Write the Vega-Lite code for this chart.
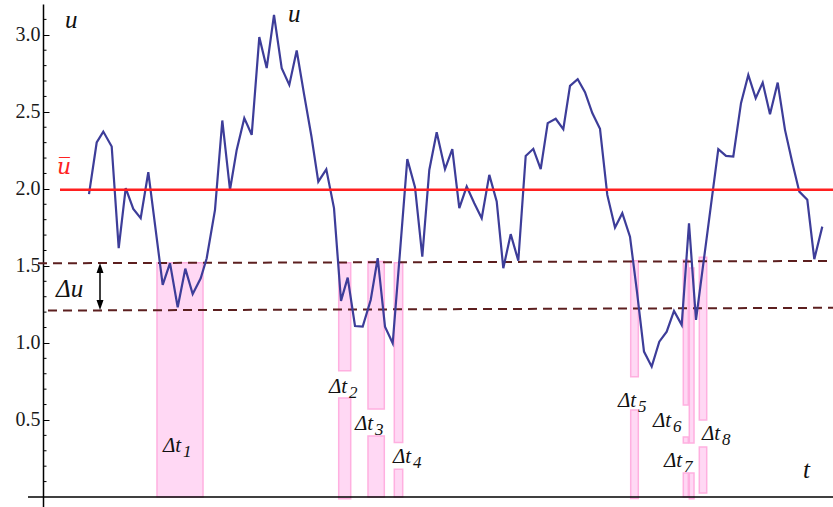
{
  "$schema": "https://vega.github.io/schema/vega-lite/v6.json",
  "width": 790,
  "height": 503,
  "autosize": {"type": "none"},
  "padding": {"left": 43, "top": 4, "right": 0, "bottom": 0},
  "background": "white",
  "config": {"view": {"stroke": null}, "axis": {"labelFont": "Liberation Serif", "labelFontSize": 20}},
  "layer": [
    {
      "data": {"values": [
        {"id": 1, "t0": 11.4, "t1": 16.0, "u0": 0, "u1": 1.52},
        {"id": 2, "t0": 29.57, "t1": 30.77, "u0": -0.012, "u1": 0.643},
        {"id": 2, "t0": 29.57, "t1": 30.77, "u0": 0.82, "u1": 1.52},
        {"id": 3, "t0": 32.5, "t1": 34.13, "u0": 0, "u1": 0.396},
        {"id": 3, "t0": 32.5, "t1": 34.13, "u0": 0.571, "u1": 1.528},
        {"id": 4, "t0": 35.13, "t1": 35.97, "u0": 0, "u1": 0.18},
        {"id": 4, "t0": 35.13, "t1": 35.97, "u0": 0.353, "u1": 1.52},
        {"id": 5, "t0": 58.77, "t1": 59.53, "u0": -0.01, "u1": 0.565},
        {"id": 5, "t0": 58.77, "t1": 59.53, "u0": 0.781, "u1": 1.534},
        {"id": 6, "t0": 64.03, "t1": 64.53, "u0": 0, "u1": 0.156},
        {"id": 6, "t0": 64.03, "t1": 64.53, "u0": 0.351, "u1": 0.39},
        {"id": 6, "t0": 64.03, "t1": 64.53, "u0": 0.597, "u1": 1.539},
        {"id": 7, "t0": 64.63, "t1": 65.1, "u0": -0.012, "u1": 0.156},
        {"id": 7, "t0": 64.63, "t1": 65.1, "u0": 0.351, "u1": 1.487},
        {"id": 8, "t0": 65.63, "t1": 66.37, "u0": 0.026, "u1": 0.325},
        {"id": 8, "t0": 65.63, "t1": 66.37, "u0": 0.5, "u1": 1.556}
      ]},
      "mark": {"type": "rect", "fill": "#ffd8f4", "stroke": "#ffb0e0", "strokeWidth": 1.5},
      "encoding": {
        "x": {"field": "t0", "type": "quantitative", "scale": {"domain": [0, 79], "nice": false, "zero": false}, "axis": null},
        "x2": {"field": "t1"},
        "y": {"field": "u0", "type": "quantitative", "scale": {"domain": [-0.065, 3.2], "nice": false, "zero": false},
          "axis": {
            "values": [0.5, 1.0, 1.5, 2.0, 2.5, 3.0],
            "format": ".1f",
            "title": null,
            "grid": false,
            "domainColor": "#000000",
            "domainWidth": 1.5,
            "tickColor": "#000000",
            "tickWidth": 1,
            "tickSize": -6,
            "labelFont": "Liberation Serif",
            "labelFontSize": 20,
            "labelColor": "#1a1a1a",
            "labelPadding": 9,
            "labelOverlap": false,
            "labelFlush": false
          }},
        "y2": {"field": "u1"}
      }
    },
    {
      "data": {"values": [
        {"u": 0.1},{"u": 0.2},{"u": 0.3},{"u": 0.4},{"u": 0.6},{"u": 0.7},{"u": 0.8},{"u": 0.9},
        {"u": 1.1},{"u": 1.2},{"u": 1.3},{"u": 1.4},{"u": 1.6},{"u": 1.7},{"u": 1.8},{"u": 1.9},
        {"u": 2.1},{"u": 2.2},{"u": 2.3},{"u": 2.4},{"u": 2.6},{"u": 2.7},{"u": 2.8},{"u": 2.9},
        {"u": 3.1}
      ]},
      "mark": {"type": "rule", "color": "#000000", "strokeWidth": 1},
      "encoding": {
        "x": {"datum": 0, "type": "quantitative"},
        "x2": {"datum": 0.35},
        "y": {"field": "u", "type": "quantitative"}
      }
    },
    {
      "data": {"values": [{"ta": -1.5, "tb": 79, "ua": 0, "ub": 0}]},
      "mark": {"type": "rule", "color": "#000000", "strokeWidth": 1.5},
      "encoding": {
        "x": {"field": "ta", "type": "quantitative"},
        "x2": {"field": "tb"},
        "y": {"field": "ua", "type": "quantitative"},
        "y2": {"field": "ub"}
      }
    },
    {
      "data": {"values": [
        {"level": "upper", "ta": -0.5, "tb": 79, "ua": 1.517, "ub": 1.532},
        {"level": "lower", "ta": 0.5, "tb": 79, "ua": 1.21, "ub": 1.228}
      ]},
      "mark": {"type": "rule", "color": "#5c1f1f", "strokeWidth": 2, "strokeDash": [9, 6]},
      "encoding": {
        "x": {"field": "ta", "type": "quantitative"},
        "x2": {"field": "tb"},
        "y": {"field": "ua", "type": "quantitative"},
        "y2": {"field": "ub"}
      }
    },
    {
      "data": {"values": [
        {"t":4.6,"u":1.966},{"t":5.37,"u":2.301},{"t":6.03,"u":2.372},{"t":6.87,"u":2.275},{"t":7.57,"u":1.615},
        {"t":8.27,"u":2.005},{"t":9.03,"u":1.87},{"t":9.77,"u":1.81},{"t":10.53,"u":2.108},{"t":11.97,"u":1.377},
        {"t":12.7,"u":1.518},{"t":13.47,"u":1.232},{"t":14.23,"u":1.482},{"t":14.97,"u":1.318},{"t":15.77,"u":1.42},
        {"t":16.37,"u":1.55},{"t":17.2,"u":1.864},{"t":17.93,"u":2.444},{"t":18.7,"u":1.994},{"t":19.37,"u":2.253},
        {"t":20.13,"u":2.459},{"t":20.87,"u":2.351},{"t":21.63,"u":2.985},{"t":22.37,"u":2.784},{"t":23.1,"u":3.13},
        {"t":23.87,"u":2.784},{"t":24.63,"u":2.675},{"t":25.37,"u":2.898},{"t":26.1,"u":2.617},{"t":26.85,"u":2.338},
        {"t":27.53,"u":2.047},{"t":28.33,"u":2.127},{"t":29.1,"u":1.875},{"t":29.8,"u":1.273},{"t":30.47,"u":1.424},
        {"t":31.2,"u":1.11},{"t":31.97,"u":1.106},{"t":32.77,"u":1.279},{"t":33.47,"u":1.55},{"t":34.2,"u":1.106},
        {"t":34.97,"u":0.998},{"t":35.7,"u":1.591},{"t":36.43,"u":2.193},{"t":37.2,"u":2.011},{"t":37.93,"u":1.56},
        {"t":38.63,"u":2.123},{"t":39.37,"u":2.368},{"t":40.2,"u":2.128},{"t":40.93,"u":2.258},{"t":41.63,"u":1.875},
        {"t":42.37,"u":2.015},{"t":43.13,"u":1.907},{"t":43.87,"u":1.81},{"t":44.63,"u":2.091},{"t":45.37,"u":1.918},
        {"t":46.03,"u":1.485},{"t":46.77,"u":1.706},{"t":47.53,"u":1.534},{"t":48.27,"u":2.214},{"t":49.03,"u":2.26},
        {"t":49.77,"u":2.128},{"t":50.47,"u":2.427},{"t":51.27,"u":2.455},{"t":52.03,"u":2.388},{"t":52.7,"u":2.669},
        {"t":53.47,"u":2.712},{"t":54.2,"u":2.628},{"t":54.93,"u":2.492},{"t":55.7,"u":2.39},{"t":56.43,"u":1.961},
        {"t":57.2,"u":1.749},{"t":57.93,"u":1.842},{"t":58.7,"u":1.69},{"t":59.4,"u":1.331},{"t":60.1,"u":0.944},
        {"t":60.87,"u":0.846},{"t":61.63,"u":1.008},{"t":62.37,"u":1.073},{"t":63.1,"u":1.208},{"t":63.87,"u":1.117},
        {"t":64.6,"u":1.777},{"t":65.3,"u":1.149},{"t":66.03,"u":1.513},{"t":66.8,"u":1.896},{"t":67.53,"u":2.258},
        {"t":68.3,"u":2.214},{"t":69.03,"u":2.21},{"t":69.8,"u":2.556},{"t":70.53,"u":2.74},{"t":71.27,"u":2.589},
        {"t":71.97,"u":2.69},{"t":72.7,"u":2.485},{"t":73.47,"u":2.69},{"t":74.2,"u":2.383},{"t":74.93,"u":2.171},
        {"t":75.63,"u":1.982},{"t":76.43,"u":1.929},{"t":77.13,"u":1.544},{"t":77.93,"u":1.755}
      ]},
      "mark": {"type": "line", "color": "#3d3d99", "strokeWidth": 2.2},
      "encoding": {
        "x": {"field": "t", "type": "quantitative"},
        "y": {"field": "u", "type": "quantitative"}
      }
    },
    {
      "data": {"values": [{"ta": 1.7, "tb": 79, "u": 1.995}]},
      "mark": {"type": "rule", "color": "#ff1f1f", "strokeWidth": 2.5},
      "encoding": {
        "x": {"field": "ta", "type": "quantitative"},
        "x2": {"field": "tb"},
        "y": {"field": "u", "type": "quantitative"}
      }
    },
    {
      "data": {"values": [{"t": 5.7, "ua": 1.49, "ub": 1.24}]},
      "mark": {"type": "rule", "color": "#000000", "strokeWidth": 1.5},
      "encoding": {
        "x": {"field": "t", "type": "quantitative"},
        "y": {"field": "ua", "type": "quantitative"},
        "y2": {"field": "ub"}
      }
    },
    {
      "data": {"values": [
        {"t": 5.7, "u": 1.487, "dir": "up"},
        {"t": 5.7, "u": 1.247, "dir": "down"}
      ]},
      "mark": {"type": "point", "filled": true, "color": "#000000", "opacity": 1, "size": 100},
      "encoding": {
        "x": {"field": "t", "type": "quantitative"},
        "y": {"field": "u", "type": "quantitative"},
        "shape": {"field": "dir", "type": "nominal", "legend": null,
          "scale": {"domain": ["up", "down"], "range": ["M-0.7,1L0,-1L0.7,1Z", "M-0.7,-1L0,1L0.7,-1Z"]}}
      }
    },
    {
      "data": {"values": [
        {"label": "Δt", "sub": "1", "t": 12.0, "u": 0.292},
        {"label": "Δt", "sub": "2", "t": 28.6, "u": 0.675},
        {"label": "Δt", "sub": "3", "t": 31.2, "u": 0.435},
        {"label": "Δt", "sub": "4", "t": 35.0, "u": 0.221},
        {"label": "Δt", "sub": "5", "t": 57.5, "u": 0.584},
        {"label": "Δt", "sub": "6", "t": 61.0, "u": 0.455},
        {"label": "Δt", "sub": "7", "t": 62.1, "u": 0.195},
        {"label": "Δt", "sub": "8", "t": 65.9, "u": 0.37}
      ]},
      "layer": [
        {
          "mark": {"type": "text", "align": "left", "baseline": "alphabetic", "font": "Liberation Serif", "fontStyle": "italic", "fontSize": 21, "color": "#111111"},
          "encoding": {
            "x": {"field": "t", "type": "quantitative"},
            "y": {"field": "u", "type": "quantitative"},
            "text": {"field": "label"}
          }
        },
        {
          "mark": {"type": "text", "align": "left", "baseline": "alphabetic", "font": "Liberation Serif", "fontStyle": "italic", "fontSize": 17, "dx": 20, "dy": 5, "color": "#111111"},
          "encoding": {
            "x": {"field": "t", "type": "quantitative"},
            "y": {"field": "u", "type": "quantitative"},
            "text": {"field": "sub"}
          }
        }
      ]
    },
    {
      "data": {"values": [
        {"text": "u", "t": 2.2, "u": 3.045, "kind": "axis"},
        {"text": "u", "t": 24.5, "u": 3.085, "kind": "curve"},
        {"text": "t", "t": 76.0, "u": 0.123, "kind": "axis"},
        {"text": "Δu", "t": 1.3, "u": 1.299, "kind": "delta"}
      ]},
      "mark": {"type": "text", "align": "left", "baseline": "alphabetic", "font": "Liberation Serif", "fontStyle": "italic", "fontSize": 25, "color": "#111111"},
      "encoding": {
        "x": {"field": "t", "type": "quantitative"},
        "y": {"field": "u", "type": "quantitative"},
        "text": {"field": "text"}
      }
    },
    {
      "data": {"values": [{"text": "u̅", "t": 1.4, "u": 2.097}]},
      "mark": {"type": "text", "align": "left", "baseline": "alphabetic", "font": "DejaVu Serif", "fontStyle": "italic", "fontSize": 22, "color": "#ff2222"},
      "encoding": {
        "x": {"field": "t", "type": "quantitative"},
        "y": {"field": "u", "type": "quantitative"},
        "text": {"field": "text"}
      }
    }
  ]
}
